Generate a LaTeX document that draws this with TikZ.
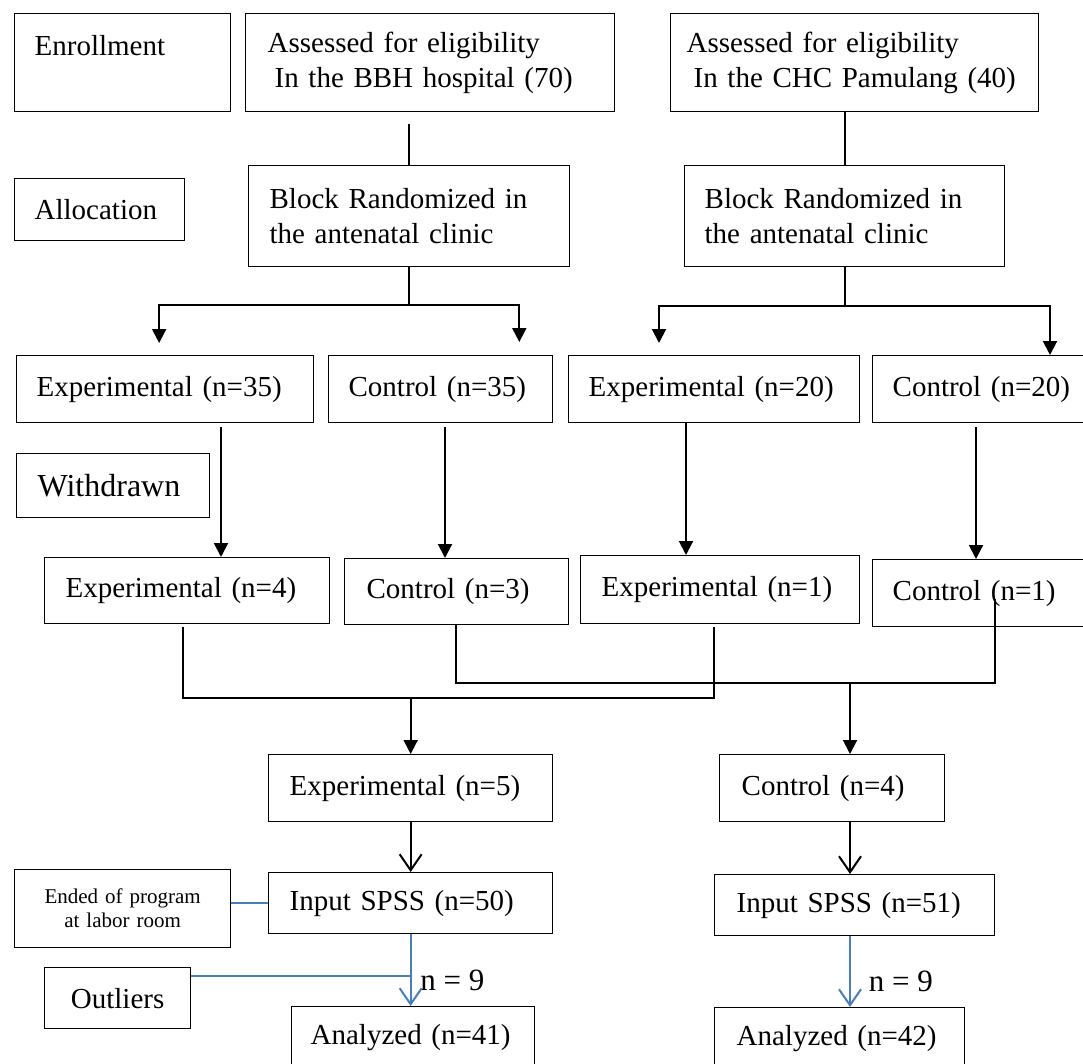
\documentclass[tikz,border=0pt]{standalone}
\usepackage{fontspec}
\setmainfont{Liberation Serif}
\usetikzlibrary{arrows.meta,calc}
\definecolor{FlowBlue}{HTML}{4A7EBB}

\begin{document}
\begin{tikzpicture}[x=1pt,y=-1pt,
  flowbox/.style={draw,line width=1.3pt,anchor=north west,inner ysep=0pt,align=left,font=\fontsize{29}{35}\selectfont},
  link/.style={line width=2pt},
  bluelink/.style={draw=FlowBlue,line width=2pt},
  tri/.style={-{Triangle[length=14pt,width=14pt]}},
  barb/.style={-{Straight Barb[length=16pt,width=22pt]}}]
  \useasboundingbox (0,0) rectangle (1083,1064);
  % enrollment and allocation
  \node[flowbox,text width=176pt,inner xsep=20pt,minimum height=98pt] (enroll) at (14,13) {Enrollment\\\mbox{}};
  \node[flowbox,text width=325pt,inner xsep=22pt,minimum height=98pt] (assessA) at (245,13) {Assessed for eligibility\\\hspace*{7pt}In the BBH hospital (70)};
  \node[flowbox,text width=336pt,inner xsep=16pt,minimum height=98pt] (assessB) at (670,13) {Assessed for eligibility\\\hspace*{7pt}In the CHC Pamulang (40)};
  \node[flowbox,text width=130pt,inner xsep=20pt,minimum height=62pt] (alloc) at (14,178) {Allocation};
  \node[flowbox,text width=279pt,inner xsep=21pt,minimum height=101pt] (randA) at (248,165) {Block Randomized in\\the antenatal clinic};
  \node[flowbox,text width=280pt,inner xsep=20pt,minimum height=101pt] (randB) at (684,165) {Block Randomized in\\the antenatal clinic};
  % groups
  \node[flowbox,text width=257pt,inner xsep=20pt,minimum height=67pt] (expA) at (16,355) {Experimental (n=35)};
  \node[flowbox,text width=184pt,inner xsep=20pt,minimum height=67pt] (ctlA) at (328,355) {Control (n=35)};
  \node[flowbox,text width=251pt,inner xsep=20pt,minimum height=67pt] (expB) at (568,355) {Experimental (n=20)};
  \node[flowbox,text width=200pt,inner xsep=20pt,minimum height=67pt] (ctlB) at (872,355) {Control (n=20)};
  % withdrawn
  \node[flowbox,text width=151pt,inner xsep=21pt,minimum height=64pt,font=\fontsize{32}{38}\selectfont] (withdrawn) at (16,453) {Withdrawn};
  \node[flowbox,text width=243pt,inner xsep=21pt,minimum height=66pt] (expA2) at (44,557) {Experimental (n=4)};
  \node[flowbox,text width=180pt,inner xsep=22pt,minimum height=66pt] (ctlA2) at (344,558) {Control (n=3)};
  \node[flowbox,text width=237pt,inner xsep=21pt,minimum height=68pt] (expB2) at (580,555) {Experimental (n=1)};
  \node[flowbox,text width=200pt,inner xsep=20pt,minimum height=67pt] (ctlB2) at (872,559) {Control (n=1)};
  % pooled groups
  \node[flowbox,text width=242pt,inner xsep=21pt,minimum height=67pt] (expM) at (268,754) {Experimental (n=5)};
  \node[flowbox,text width=181pt,inner xsep=22pt,minimum height=67pt] (ctlM) at (719,754) {Control (n=4)};
  \node[flowbox,text width=242pt,inner xsep=21pt,minimum height=61pt] (spssA) at (268,872) {Input SPSS (n=50)};
  \node[flowbox,text width=236pt,inner xsep=22pt,minimum height=61pt] (spssB) at (714,874) {Input SPSS (n=51)};
  \node[flowbox,text width=196pt,inner xsep=10pt,minimum height=78pt,align=center,font=\fontsize{21}{24}\selectfont] (ended) at (14,869) {Ended of program\\at labor room};
  \node[flowbox,text width=126pt,inner xsep=10pt,minimum height=61pt,align=center] (outliers) at (44,967) {Outliers};
  \node[flowbox,text width=205pt,inner xsep=19pt,minimum height=62pt] (anaA) at (291,1006) {Analyzed (n=41)};
  \node[flowbox,text width=206pt,inner xsep=22pt,minimum height=62pt] (anaB) at (714,1007) {Analyzed (n=42)};
  \node[anchor=west,inner sep=0pt,font=\fontsize{31}{37}\selectfont] (nA) at ([shift={(7pt,26pt)}]anaA.north) {n = 9};
  \node[anchor=west,inner sep=0pt,font=\fontsize{31}{37}\selectfont] (nB) at ([shift={(29pt,26pt)}]anaB.north) {n = 9};

  % enrollment to randomization
  \coordinate (tA) at ([yshift=-12pt]assessA.south);
  \draw[link] (tA -| randA.north) -- (randA.north);
  \draw[link] (assessB.south -| randB.north) -- (randB.north);
  % allocation forks
  \coordinate (inEA) at ([xshift=-6pt,yshift=12pt]expA.north);
  \coordinate (inCA) at ([xshift=-34pt,yshift=13pt]ctlA.north east);
  \coordinate (inEB) at ([xshift=91pt,yshift=12pt]expB.north west);
  \coordinate (inCB) at ([xshift=178pt]ctlB.north west);
  \draw[link] (randA.south) -- ++(0,38) coordinate (forkA);
  \draw[link,tri] (forkA) -| (inEA);
  \draw[link,tri] (forkA) -| (inCA);
  \draw[link] (randB.south) -- ++(0,39) coordinate (forkB);
  \draw[link,tri] (forkB) -| (inEB);
  \draw[link,tri] (forkB) -| (inCB);
  % withdrawals
  \coordinate (oEA) at ([xshift=205pt,yshift=-4pt]expA.south west);
  \coordinate (oCA) at ([xshift=117pt,yshift=-4pt]ctlA.south west);
  \coordinate (oEB) at ([xshift=118pt]expB.south west);
  \coordinate (oCB) at ([xshift=104pt,yshift=-4pt]ctlB.south west);
  \draw[link,tri] (oEA) -- (oEA |- expA2.north);
  \draw[link,tri] (oCA) -- (oCA |- ctlA2.north);
  \draw[link,tri] (oEB) -- (oEB |- expB2.north);
  \draw[link,tri] (oCB) -- (oCB |- ctlB2.north);
  % merging
  \coordinate (oEA2) at ([xshift=139pt,yshift=-3pt]expA2.south west);
  \coordinate (oEB2) at ([xshift=134pt,yshift=-3pt]expB2.south west);
  \coordinate (oCA2) at ([xshift=112pt]ctlA2.south west);
  \coordinate (oCB2) at ([xshift=123pt,yshift=28pt]ctlB2.south west);
  \coordinate (mergeE) at ([yshift=56pt]expM.north);
  \coordinate (mergeC) at ([xshift=131pt,yshift=71pt]ctlM.north west);
  \draw[link] (oEA2) |- (mergeE) -| (oEB2);
  \draw[link] (oCA2) |- (mergeC) -| (oCB2);
  \draw[link,tri] (mergeE) -- (expM.north);
  \draw[link,tri] (mergeC) -- (mergeC |- ctlM.north);
  % analysis
  \draw[link,barb] (expM) -- (spssA);
  \draw[link,barb] (mergeC |- ctlM.south) -- (mergeC |- spssB.north);
  \draw[bluelink,barb] (spssA.south) -- (spssA.south |- anaA.north);
  \draw[bluelink,barb] (mergeC |- spssB.south) -- (mergeC |- anaB.north);
  \draw[bluelink] (ended.east |- spssA.west) -- (spssA.west);
  \coordinate (oOut) at ([yshift=-9pt]outliers.north east);
  \draw[bluelink] (oOut) -- (oOut -| spssA.south);
\end{tikzpicture}
\end{document}
